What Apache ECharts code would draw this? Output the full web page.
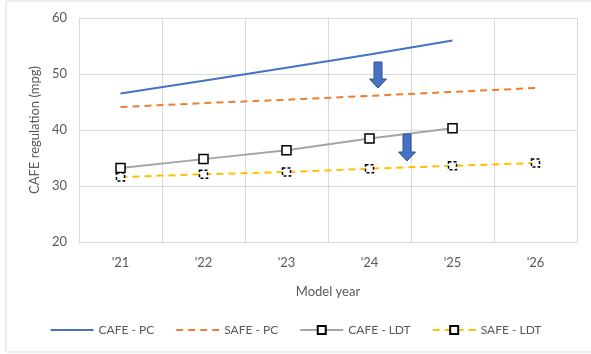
<!DOCTYPE html>
<html>
<head>
<meta charset="utf-8">
<script src="https://cdn.jsdelivr.net/npm/echarts@6/dist/echarts.min.js"></script>
<style>
  html, body { margin: 0; padding: 0; background: #fff; }
  #chart { width: 591px; height: 354px; }
</style>
</head>
<body>
<div id="chart"></div>
<script>
// Model years on the category axis
const years = ["'21", "'22", "'23", "'24", "'25", "'26"];

// Fuel-economy standards (mpg) by model year
const cafePC  = [46.5, 48.8, 51.1, 53.5, 56.0, null];
const safePC  = [44.1, 44.8, 45.4, 46.1, 46.8, 47.5];
const cafeLDT = [33.2, 34.8, 36.4, 38.5, 40.3, null];
const safeLDT = [31.6, 32.1, 32.5, 33.1, 33.6, 34.1];

const axisGrey = '#d9d9d9';
const textGrey = '#595959';
const font = 'Lato, "Liberation Sans", sans-serif';

const chart = echarts.init(document.getElementById('chart'));

// Down arrow drawn as a filled polygon (shaft + head)
function arrow(cx, top, bottom) {
  const headTop = bottom - 9;
  return {
    type: 'polygon',
    shape: { points: [
      [cx - 4, top], [cx + 4, top], [cx + 4, headTop], [cx + 8.5, headTop],
      [cx, bottom], [cx - 8.5, headTop], [cx - 4, headTop]
    ] },
    style: { fill: '#4472C4', stroke: '#2F528F', lineWidth: 1 },
    z: 20
  };
}

chart.setOption({
  animation: false,
  textStyle: { fontFamily: font },
  grid: { left: 79, right: 14, top: 18, bottom: 112 },
  graphic: [
    { type: 'rect', shape: { x: 6, y: 1, width: 600, height: 351 },
      style: { fill: 'none', stroke: axisGrey, lineWidth: 1 }, z: -1 },
    arrow(378, 62, 88),
    arrow(407, 134, 161)
  ],
  legend: {
    bottom: 13,
    left: 'center',
    itemWidth: 43,
    itemHeight: 10,
    itemGap: 21,
    textStyle: { color: textGrey, fontSize: 12, fontFamily: font },
    data: [
      { name: 'CAFE - PC', itemStyle: { opacity: 0 } },
      { name: 'SAFE - PC', itemStyle: { opacity: 0 } },
      'CAFE - LDT',
      'SAFE - LDT'
    ]
  },
  xAxis: {
    type: 'category',
    data: years,
    boundaryGap: true,
    name: 'Model year',
    nameLocation: 'middle',
    nameGap: 43,
    nameTextStyle: { color: textGrey, fontSize: 13, fontFamily: font },
    axisLine: { lineStyle: { color: axisGrey, width: 1 } },
    axisTick: { show: false },
    axisLabel: { color: textGrey, fontSize: 13, margin: 14 },
    splitLine: { show: true, lineStyle: { color: axisGrey, width: 1 } }
  },
  yAxis: {
    type: 'value',
    min: 20,
    max: 60,
    interval: 10,
    name: 'CAFE regulation (mpg)',
    nameLocation: 'middle',
    nameGap: 31,
    nameTextStyle: { color: textGrey, fontSize: 13, fontFamily: font },
    axisLine: { show: true, lineStyle: { color: axisGrey, width: 1 } },
    axisTick: { show: false },
    axisLabel: { color: textGrey, fontSize: 13, margin: 12 },
    splitLine: { show: true, lineStyle: { color: axisGrey, width: 1 } }
  },
  series: [
    {
      name: 'CAFE - PC', type: 'line', data: cafePC,
      symbol: 'none', showSymbol: false,
      lineStyle: { color: '#4472C4', width: 2 },
      itemStyle: { color: '#4472C4' }
    },
    {
      name: 'SAFE - PC', type: 'line', data: safePC,
      symbol: 'none', showSymbol: false,
      lineStyle: { color: '#ED7D31', width: 2, type: [7, 5] },
      itemStyle: { color: '#ED7D31' }
    },
    {
      name: 'CAFE - LDT', type: 'line', data: cafeLDT,
      symbol: 'rect', symbolSize: 9,
      lineStyle: { color: '#A5A5A5', width: 2 },
      itemStyle: { color: '#fff', borderColor: '#000', borderWidth: 1.5 },
      z: 3
    },
    {
      name: 'SAFE - LDT', type: 'line', data: safeLDT,
      symbol: 'rect', symbolSize: 8,
      lineStyle: { color: '#FFC000', width: 2, type: [7, 5] },
      itemStyle: { color: '#fff', borderColor: '#000', borderWidth: 1.5, borderType: [3, 2] },
      z: 3
    }
  ]
});
</script>
</body>
</html>
